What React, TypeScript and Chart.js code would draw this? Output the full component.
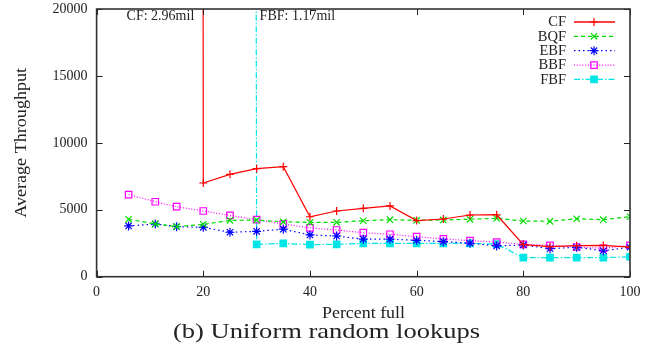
import React, { useEffect, useRef } from "react";
import { Chart, registerables } from "chart.js";

Chart.register(...registerables);

const percentFull = [6, 11, 15, 20, 25, 30, 35, 40, 45, 50, 55, 60, 65, 70, 75, 80, 85, 90, 95, 100];
const cfValues = [null, null, 2960000, 7000, 7650, 8070, 8220, 4480, 4910, 5110, 5290, 4190, 4310, 4610, 4630, 2400, 2240, 2320, 2340, 2210];
const bqfValues = [4290, 3940, 3740, 3910, 4210, 4230, 4100, 4060, 4060, 4180, 4260, 4210, 4240, 4290, 4360, 4160, 4140, 4330, 4260, 4480];
const ebfValues = [3790, 3940, 3740, 3690, 3320, 3390, 3550, 3120, 3040, 2800, 2800, 2720, 2620, 2500, 2300, 2370, 2090, 2200, 1940, 2200];
const bbfValues = [6130, 5600, 5230, 4910, 4580, 4260, 3940, 3650, 3490, 3290, 3170, 2990, 2820, 2690, 2590, 2420, 2340, 2220, 2120, 2340];
const fbfValues = [null, null, null, null, 1170000, 2420, 2490, 2390, 2420, 2490, 2490, 2490, 2490, 2490, 2440, 1420, 1420, 1420, 1420, 1490];

const xTicks = [0, 20, 40, 60, 80, 100];
const yTicks = [0, 5000, 10000, 15000, 20000];

const cfNote = "CF: 2.96mil";
const fbfNote = "FBF: 1.17mil";
const xTitle = "Percent full";
const yTitle = "Average Throughput";
const caption = "(b) Uniform random lookups";

const SERIF = "'Liberation Serif', 'Times New Roman', serif";
const INK = "#222";

const toPoints = (vals: (number | null)[]) =>
  percentFull.map((x, i) => ({ x, y: vals[i] }));

type Series = {
  label: string;
  values: (number | null)[];
  color: string;
  dash: number[];
  style: string;
  filled: boolean;
  radius: number;
};

const series: Series[] = [
  { label: "CF", values: cfValues, color: "#ff0000", dash: [], style: "cross", filled: false, radius: 4 },
  { label: "BQF", values: bqfValues, color: "#00dd00", dash: [4, 3], style: "crossRot", filled: false, radius: 4.5 },
  { label: "EBF", values: ebfValues, color: "#0000ff", dash: [1.5, 3], style: "star", filled: false, radius: 4.5 },
  { label: "BBF", values: bbfValues, color: "#ff00ff", dash: [1, 1.8], style: "rect", filled: false, radius: 4.6 },
  { label: "FBF", values: fbfValues, color: "#00e5e5", dash: [6, 2, 1.5, 2], style: "rect", filled: true, radius: 4.6 },
];

function drawMarker(ctx: CanvasRenderingContext2D, s: Series, x: number, y: number) {
  const r = s.radius;
  ctx.save();
  ctx.setLineDash([]);
  ctx.strokeStyle = s.color;
  ctx.fillStyle = s.color;
  ctx.lineWidth = 1.2;
  ctx.beginPath();
  if (s.style === "cross" || s.style === "star") {
    ctx.moveTo(x - r, y); ctx.lineTo(x + r, y);
    ctx.moveTo(x, y - r); ctx.lineTo(x, y + r);
  }
  if (s.style === "crossRot" || s.style === "star") {
    const d = r * Math.SQRT1_2;
    ctx.moveTo(x - d, y - d); ctx.lineTo(x + d, y + d);
    ctx.moveTo(x - d, y + d); ctx.lineTo(x + d, y - d);
  }
  if (s.style === "rect") {
    const d = r * Math.SQRT1_2;
    ctx.rect(x - d, y - d, 2 * d, 2 * d);
    if (s.filled) ctx.fill();
  }
  ctx.stroke();
  ctx.restore();
}

function drawScaledText(ctx: CanvasRenderingContext2D, text: string, cx: number, cy: number, font: string, targetW: number, rotate = false) {
  ctx.save();
  ctx.font = font;
  const w = ctx.measureText(text).width;
  const sx = targetW / w;
  ctx.translate(cx, cy);
  if (rotate) ctx.rotate(-Math.PI / 2);
  ctx.scale(sx, 1);
  ctx.textAlign = "center";
  ctx.textBaseline = "alphabetic";
  ctx.fillStyle = INK;
  ctx.fillText(text, 0, 0);
  ctx.restore();
}

const decorPlugin = {
  id: "decor",
  afterDatasetsDraw(chart: any) {
    const { ctx, chartArea: a, scales } = chart;
    const xs = scales.x;
    const ys = scales.y;
    ctx.save();
    // tick marks (inward, all sides)
    ctx.strokeStyle = INK;
    ctx.lineWidth = 1;
    ctx.setLineDash([]);
    const tl = 6;
    ctx.beginPath();
    xTicks.forEach((v) => {
      const px = Math.round(xs.getPixelForValue(v)) + 0.5;
      ctx.moveTo(px, a.bottom); ctx.lineTo(px, a.bottom - tl);
      ctx.moveTo(px, a.top); ctx.lineTo(px, a.top + tl);
    });
    yTicks.forEach((v) => {
      const py = Math.round(ys.getPixelForValue(v)) + 0.5;
      ctx.moveTo(a.left, py); ctx.lineTo(a.left + tl, py);
      ctx.moveTo(a.right, py); ctx.lineTo(a.right - tl, py);
    });
    ctx.stroke();
    // border
    ctx.lineWidth = 1.6;
    ctx.strokeStyle = "#333";
    ctx.strokeRect(a.left, a.top, a.right - a.left, a.bottom - a.top);

    // annotations
    ctx.font = `14px ${SERIF}`;
    ctx.fillStyle = INK;
    ctx.textBaseline = "middle";
    ctx.textAlign = "right";
    ctx.fillText(cfNote, xs.getPixelForValue(20) - 9, a.top + 7);
    ctx.textAlign = "left";
    ctx.fillText(fbfNote, xs.getPixelForValue(30) + 3, a.top + 7);

    // legend
    ctx.font = `14.5px ${SERIF}`;
    series.forEach((s, i) => {
      const y = a.top + 13 + i * 14.35;
      ctx.textAlign = "right";
      ctx.textBaseline = "middle";
      ctx.fillStyle = INK;
      ctx.fillText(s.label, 566, y + 0.5);
      ctx.save();
      ctx.strokeStyle = s.color;
      ctx.lineWidth = 1.3;
      ctx.setLineDash(s.dash);
      ctx.beginPath();
      ctx.moveTo(574, y); ctx.lineTo(615, y);
      ctx.stroke();
      ctx.restore();
      drawMarker(ctx, s, 594, y);
    });

    // titles
    drawScaledText(ctx, xTitle, 363.5, 318.3, `16px ${SERIF}`, 83);
    drawScaledText(ctx, yTitle, 26, (a.top + a.bottom) / 2, `16.5px ${SERIF}`, 150, true);
    drawScaledText(ctx, caption, 326.5, 338, `22px ${SERIF}`, 307);
    ctx.restore();
  },
};

export default function App() {
  const ref = useRef<HTMLCanvasElement | null>(null);
  useEffect(() => {
    document.body.style.margin = "0";
    const canvas = ref.current;
    if (!canvas) return;
    const chart = new Chart(canvas, {
      type: "scatter",
      data: {
        datasets: series.map((s) => ({
          label: s.label,
          data: toPoints(s.values) as any,
          showLine: true,
          borderColor: s.color,
          backgroundColor: s.filled ? s.color : "rgba(0,0,0,0)",
          borderWidth: 1.2,
          borderDash: s.dash,
          pointStyle: s.style as any,
          pointRadius: s.radius,
          pointBorderWidth: 1.2,
          pointBorderColor: s.color,
          pointBackgroundColor: s.filled ? s.color : "rgba(0,0,0,0)",
          spanGaps: false,
          tension: 0,
        })),
      },
      options: {
        responsive: false,
        animation: false,
        devicePixelRatio: 1,
        layout: { padding: { top: 9, right: 28, left: 0, bottom: 0 } },
        plugins: {
          legend: { display: false },
          tooltip: { enabled: false },
          title: { display: false },
        },
        scales: {
          x: {
            type: "linear",
            min: 0,
            max: 100,
            ticks: { stepSize: 20, padding: 7, color: INK, font: { family: SERIF, size: 14 }, maxRotation: 0, callback: (v: any) => String(v) },
            grid: { display: false, drawTicks: false },
            border: { display: false },
            afterFit: (s: any) => { s.height = 347 - 276.7; s.paddingLeft = 0; s.paddingRight = 0; },
          },
          y: {
            type: "linear",
            min: 0,
            max: 20000,
            ticks: { stepSize: 5000, padding: 9, color: INK, font: { family: SERIF, size: 14 }, callback: (v: any) => String(v) },
            grid: { display: false, drawTicks: false },
            border: { display: false },
            afterFit: (s: any) => { s.width = 96.6; s.paddingTop = 0; s.paddingBottom = 0; },
          },
        },
      },
      plugins: [decorPlugin],
    });
    return () => chart.destroy();
  }, []);
  return <canvas ref={ref} width={658} height={347} style={{ display: "block" }} />;
}
